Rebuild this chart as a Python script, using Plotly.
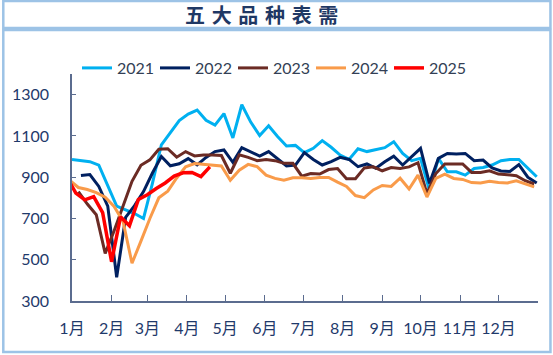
import pandas as pd
import plotly.graph_objects as go

# ---- data (weekly apparent demand, 10k t) ----
years = ["2021", "2022", "2023", "2024", "2025"]
first_week = ["2021-01-01", "2022-01-08", "2023-01-06", "2023-12-30", "2024-12-28"]
year_start = ["2021-01-01", "2022-01-01", "2023-01-01", "2024-01-01", "2025-01-01"]

v2021 = [986, 981, 975, 958, 860, 760, 742, 724, 700, 870, 1057, 1114, 1174, 1206, 1225,
         1176, 1152, 1208, 1090, 1251, 1167, 1102, 1149, 1097, 1051, 1054, 1019, 1040, 1077,
         1045, 1007, 986, 1038, 1024, 1032, 1043, 1072, 1015, 980, 991, 835, 991, 926, 926,
         910, 942, 947, 959, 980, 986, 986, 942, 902]
v2022 = [908, 913, 855, 760, 415, 705, 762, 830, 920, 1000, 955, 965, 990, 960, 996, 1024,
         1032, 972, 1043, 1024, 1002, 1024, 991, 954, 959, 1019, 986, 959, 975, 996, 986, 951,
         964, 943, 975, 1002, 959, 1000, 1040, 870, 991, 1015, 1012, 1015, 980, 983, 945, 930,
         928, 961, 900, 872]
v2023 = [830, 770, 718, 531, 640, 765, 880, 958, 984, 1035, 1038, 997, 1024, 1003, 1008,
         1008, 1005, 919, 1008, 996, 980, 986, 980, 967, 967, 905, 918, 915, 937, 942, 893,
         893, 945, 950, 931, 947, 942, 950, 970, 820, 918, 964, 964, 964, 923, 923, 931, 915,
         912, 907, 883, 867]
v2024 = [886, 850, 840, 825, 803, 758, 685, 483, 590, 700, 800, 832, 896, 950, 966, 962, 958,
         954, 885, 934, 962, 951, 910, 894, 885, 897, 897, 894, 899, 899, 876, 855, 811, 801,
         838, 860, 855, 895, 843, 910, 804, 894, 915, 894, 889, 874, 872, 880, 874, 872, 882,
         869, 853]
v2025 = [900, 823, 790, 806, 728, 490, 708, 665, 792, 815, 845, 872, 905, 921, 923, 903, 950]
values = [v2021, v2022, v2023, v2024, v2025]

month_labels = ["1月", "2月", "3月", "4月", "5月", "6月", "7月", "8月", "9月", "10月", "11月", "12月", ""]
month_days = [0, 31, 59, 90, 120, 151, 181, 212, 243, 273, 304, 334, 365]
y_ticks = [300, 500, 700, 900, 1100, 1300]

colors = ["#00B0F0", "#002060", "#6B2B24", "#F99B4A", "#FF0000"]
widths = [3, 3, 3, 3, 3.5]

W, H = 553, 355
ML, MR, MT, MB = 70, 15, 74, 54

fig = go.Figure()
for name, start, y0, vals, c, w in zip(years, first_week, year_start, values, colors, widths):
    d = pd.date_range(start, periods=len(vals), freq="7D")
    x = (d - pd.Timestamp(y0)).days
    fig.add_trace(go.Scatter(x=list(x), y=vals, name=name, mode="lines",
                             line=dict(color=c, width=w)))

axis_col = "#5B6C8F"
tick_font = dict(family="Lato, Noto Sans CJK SC, sans-serif", size=16, color="#1F3A6B")

fig.update_xaxes(range=[0, 365], tickmode="array", tickvals=month_days, ticktext=month_labels,
                 showgrid=False, zeroline=False, showline=True, linecolor=axis_col, linewidth=1.5,
                 ticks="inside", ticklen=6, tickcolor=axis_col, tickfont=tick_font,
                 ticklabelstandoff=12)
fig.update_yaxes(range=[300, 1400], tickmode="array", tickvals=y_ticks,
                 showgrid=False, zeroline=False, showline=True, linecolor=axis_col, linewidth=1.5,
                 ticks="inside", ticklen=4, tickcolor=axis_col, tickfont=tick_font,
                 ticklabelstandoff=18)

pw, ph = W - ML - MR, H - MT - MB
def px_x(p):
    return (p - ML) / pw
def px_y(p):
    return (H - MB - p) / ph

border = "#9DC3E6"
shapes = [
    dict(type="rect", xref="paper", yref="paper", x0=px_x(1), x1=px_x(550.5), y0=px_y(28), y1=px_y(1),
         line=dict(color=border, width=2.5), layer="below"),
    dict(type="rect", xref="paper", yref="paper", x0=px_x(1), x1=px_x(550.5), y0=px_y(352), y1=px_y(30),
         line=dict(color=border, width=2.5), layer="below"),
]

sp = "\u2004"
fig.add_annotation(text="<b>" + sp.join("五大品种表需") + "</b>", xref="paper", yref="paper",
                   x=px_x(260), y=px_y(15), xanchor="center", yanchor="middle", showarrow=False,
                   font=dict(family="Noto Sans CJK SC", size=20, color="#1F3864"))

fig.update_layout(
    width=W, height=H, margin=dict(l=ML, r=MR, t=MT, b=MB),
    paper_bgcolor="white", plot_bgcolor="white",
    shapes=shapes,
    legend=dict(orientation="h", x=px_x(75), xanchor="left", y=px_y(68), yanchor="middle",
                entrywidth=33, entrywidthmode="pixels", bgcolor="rgba(0,0,0,0)",
                font=dict(family="Lato, sans-serif", size=16, color="#333F55"),
                itemwidth=30, tracegroupgap=0),
    showlegend=True,
)

fig.write_html("out.html", config={"displayModeBar": False},
               post_script="document.body.style.margin='0';document.body.style.padding='0';")
